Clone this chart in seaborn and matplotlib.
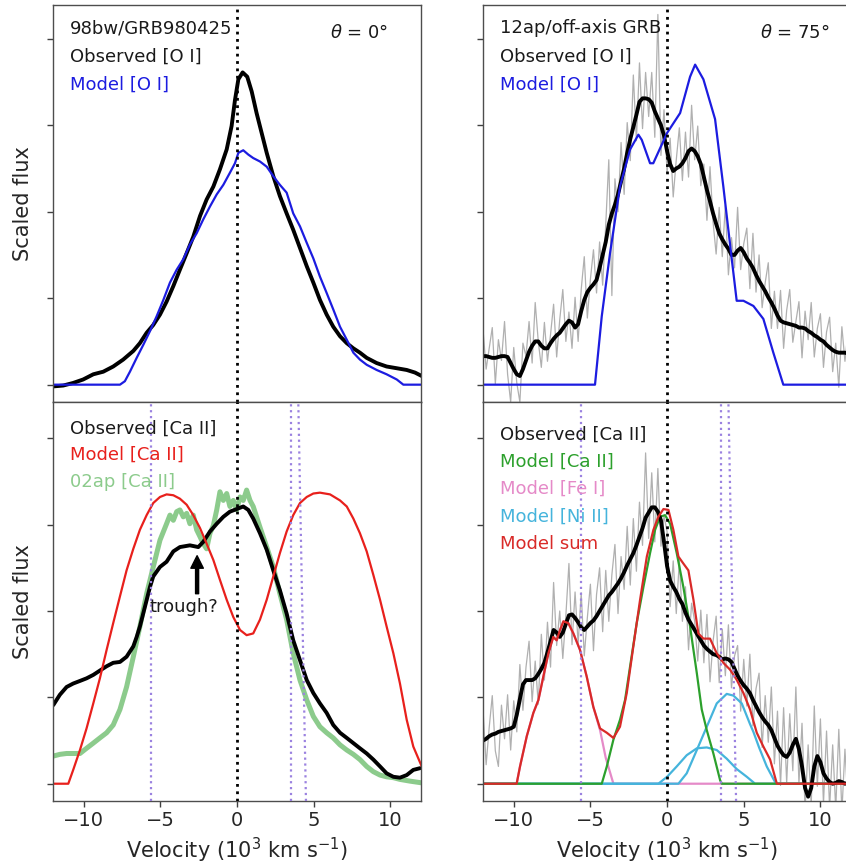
import numpy as np
import matplotlib
matplotlib.use("Agg")
import matplotlib.pyplot as plt
import seaborn as sns

# ------------------------------------------------------------------ data
# Top-left: SN 1998bw / GRB980425, [O I]
TL_OBS_V = [-11.98, -11.33, -10.68, -10.03, -9.37, -8.72, -8.07, -7.42, -6.76, -6.33, -5.89, -5.46,
            -5.02, -4.59, -4.15, -3.72, -3.28, -2.85, -2.41, -1.98, -1.54, -1.11, -0.67, -0.35,
            -0.13, 0.09, 0.37, 0.67, 0.96, 1.28, 1.61, 1.94, 2.37, 2.8, 3.24, 3.67, 4.11, 4.55,
            4.98, 5.41, 5.85, 6.28, 6.72, 7.16, 7.59, 8.02, 8.46, 9.11, 9.76, 10.42, 11.07, 11.61, 12.05]
TL_OBS_F = [-0.02, -0.01, 0.02, 0.06, 0.12, 0.15, 0.21, 0.29, 0.39, 0.48, 0.6, 0.69,
            0.81, 0.96, 1.14, 1.33, 1.52, 1.71, 1.95, 2.14, 2.29, 2.49, 2.72, 2.99,
            3.29, 3.53, 3.61, 3.56, 3.39, 3.14, 2.91, 2.68, 2.41, 2.18, 1.98, 1.79, 1.58, 1.37,
            1.18, 0.98, 0.81, 0.67, 0.56, 0.48, 0.42, 0.37, 0.31, 0.25, 0.21, 0.19, 0.17, 0.14, 0.1]
TL_MOD_V = [-12, -7.63, -7.31, -6.98, -6.54, -6.11, -5.67, -5.24, -4.8, -4.37, -3.93, -3.5, -3.07,
            -2.63, -2.2, -1.76, -1.32, -0.89, -0.46, -0.13, 0.09, 0.41, 0.74, 1.06, 1.5, 1.94,
            2.37, 2.8, 3.24, 3.67, 4.11, 4.55, 4.98, 5.41, 5.85, 6.28, 6.72, 7.16, 7.59, 8.02,
            8.46, 9.11, 9.76, 10.42, 10.85, 12]
TL_MOD_F = [0, 0, 0.04, 0.15, 0.31, 0.46, 0.62, 0.79, 0.98, 1.18, 1.33, 1.45, 1.62,
            1.75, 1.91, 2.06, 2.2, 2.31, 2.45, 2.56, 2.68, 2.71, 2.66, 2.62, 2.58, 2.52,
            2.41, 2.31, 2.22, 1.98, 1.83, 1.64, 1.46, 1.25, 1.06, 0.87, 0.67, 0.52, 0.37, 0.29,
            0.23, 0.17, 0.12, 0.06, 0, 0]

# Top-right: SN 2012ap, [O I]; observed spectrum sampled every 0.2 (10^3 km/s) from -12 to 12
TR_RAW_F = [0.63, 0.18, 0.42, 0.66, 0.01, 0.52, 0.28, 0.73, 0.12, -0.20,
            0.43, 0.02, -0.20, 0.48, 0.33, 0.73, 0.25, 0.95, 0.50, 0.20,
            0.72, 0.27, 0.58, 0.93, 0.32, 0.75, 1.10, 0.50, 0.84, 0.42,
            1.01, 0.50, 1.10, 1.48, 0.77, 1.22, 1.56, 1.06, 1.65, 1.15,
            1.85, 2.60, 1.03, 2.38, 2.00, 2.80, 2.20, 3.03, 2.59, 3.58,
            2.82, 3.72, 2.96, 3.61, 3.10, 3.61, 2.86, 4.28, 2.65, 3.18,
            2.45, 2.85, 2.17, 2.60, 2.97, 2.36, 2.92, 2.40, 3.23, 2.60,
            2.99, 2.30, 2.55, 1.90, 2.52, 1.88, 1.51, 2.05, 1.48, 2.07,
            1.27, 1.70, 1.35, 2.05, 1.33, 1.63, 1.81, 1.11, 1.75, 1.07,
            1.50, 0.89, 1.18, 1.41, 0.65, 1.08, 0.65, 1.09, 0.42, 0.86,
            1.10, 0.49, 0.73, 0.96, 0.31, 0.85, 0.52, 0.95, 0.32, 0.65,
            0.82, 0.20, 0.61, 0.78, 0.15, 0.48, -0.03, 0.67, 0.27, 0.61,
            0.16]
TR_SMOOTH_F = [0.33, 0.33, 0.32, 0.31, 0.31, 0.32, 0.33, 0.33, 0.32, 0.25,
               0.18, 0.12, 0.10, 0.18, 0.28, 0.38, 0.45, 0.50, 0.50, 0.45,
               0.42, 0.42, 0.48, 0.53, 0.57, 0.60, 0.65, 0.70, 0.74, 0.72,
               0.66, 0.70, 0.85, 0.98, 1.07, 1.12, 1.16, 1.21, 1.35, 1.50,
               1.65, 1.85, 1.98, 2.08, 2.20, 2.35, 2.50, 2.68, 2.84, 2.98,
               3.12, 3.27, 3.31, 3.31, 3.30, 3.26, 3.16, 3.08, 3.00, 2.88,
               2.70, 2.55, 2.47, 2.50, 2.52, 2.56, 2.62, 2.70, 2.73, 2.70,
               2.64, 2.55, 2.40, 2.25, 2.12, 1.98, 1.86, 1.75, 1.68, 1.62,
               1.57, 1.50, 1.50, 1.55, 1.58, 1.53, 1.46, 1.41, 1.35, 1.27,
               1.20, 1.14, 1.08, 1.01, 0.95, 0.88, 0.80, 0.74, 0.72, 0.71,
               0.70, 0.69, 0.68, 0.66, 0.66, 0.65, 0.62, 0.60, 0.57, 0.55,
               0.52, 0.50, 0.46, 0.43, 0.40, 0.38, 0.37, 0.37, 0.37, 0.36,
               0.36]
TR_MOD_V = [-12, -4.7, -4.26, -3.72, -3.07, -2.41, -1.87, -1.65, -1.11, -0.9, 0, 0.85, 1.5,
            1.83, 2.37, 3.13, 3.67, 4.22, 4.54, 4.98, 5.63, 6.28, 6.93, 7.58, 12]
TR_MOD_F = [0, 0, 0.79, 1.52, 2.29, 2.72, 2.89, 2.83, 2.56, 2.56, 2.91, 3.14, 3.56,
            3.7, 3.53, 3.07, 2.29, 1.45, 0.97, 0.97, 0.91, 0.76, 0.37, 0, 0]

# Bottom-left: SN 1998bw [Ca II]
BL_OBS_V = [-11.98, -11.55, -11.11, -10.68, -10.24, -9.81, -9.37, -8.94, -8.5, -8.07, -7.63, -7.2,
            -6.76, -6.54, -6.33, -6.0, -5.67, -5.46, -5.02, -4.59, -4.15, -3.72, -3.07, -2.52,
            -2.2, -1.76, -1.32, -0.89, -0.46, -0.02, 0.41, 0.74, 1.06, 1.5, 1.94, 2.37, 2.8,
            3.24, 3.67, 4.11, 4.55, 4.98, 5.41, 5.85, 6.28, 6.72, 7.16, 7.59, 8.02, 8.46, 8.89,
            9.33, 9.76, 10.2, 10.63, 11.07, 11.5, 11.94]
BL_OBS_F = [0.91, 1.03, 1.12, 1.16, 1.19, 1.22, 1.26, 1.31, 1.36, 1.4, 1.41, 1.47,
            1.59, 1.7, 1.82, 2.05, 2.28, 2.4, 2.51, 2.57, 2.69, 2.74, 2.76, 2.74,
            2.8, 2.92, 3.01, 3.09, 3.15, 3.18, 3.21, 3.17, 3.07, 2.9, 2.71, 2.47, 2.24,
            1.97, 1.66, 1.43, 1.2, 1.05, 0.93, 0.82, 0.68, 0.59, 0.53, 0.47, 0.41, 0.35, 0.28,
            0.2, 0.12, 0.08, 0.07, 0.1, 0.16, 0.18]
BL_MOD_V = [-12, -11.0, -10.68, -10.24, -9.81, -9.37, -8.94, -8.5, -8.07, -7.63, -7.2, -6.76,
            -6.33, -5.89, -5.46, -5.02, -4.59, -4.15, -3.72, -3.28, -2.85, -2.41, -1.98, -1.54,
            -1.11, -0.67, -0.24, 0.2, 0.63, 1.06, 1.5, 1.94, 2.37, 2.8, 3.24, 3.67, 4.11, 4.55,
            4.98, 5.41, 6.07, 6.72, 7.16, 7.59, 8.02, 8.46, 8.89, 9.33, 9.76, 10.2, 10.63,
            11.07, 11.5, 12.05]
BL_MOD_F = [0, 0, 0.16, 0.39, 0.64, 0.93, 1.22, 1.55, 1.86, 2.17, 2.47, 2.72,
            2.94, 3.11, 3.25, 3.32, 3.35, 3.34, 3.3, 3.23, 3.11, 2.96, 2.78, 2.59,
            2.36, 2.13, 1.93, 1.78, 1.72, 1.74, 1.9, 2.13, 2.4, 2.67, 2.92, 3.11, 3.25, 3.32,
            3.36, 3.37, 3.35, 3.28, 3.21, 3.07, 2.9, 2.69, 2.42, 2.13, 1.82, 1.51, 1.16,
            0.74, 0.43, 0.2]
BL_02AP_V = [-11.98, -11.55, -11.11, -10.68, -10.24, -9.81, -9.37, -8.94, -8.5, -8.07, -7.63,
             -7.2, -6.76, -6.33, -5.89, -5.46, -5.02, -4.59, -4.37, -4.15, -3.93, -3.72, -3.5,
             -3.28, -3.07, -2.85, -2.63, -2.41, -2.2, -1.98, -1.76, -1.54, -1.32, -1.11, -0.89,
             -0.67, -0.46, -0.24, -0.02, 0.2, 0.41, 0.63, 0.85, 1.06, 1.5, 1.94, 2.37, 2.8,
             3.24, 3.67, 4.11, 4.55, 4.98, 5.41, 5.85, 6.28, 6.72, 7.16, 7.59, 8.02, 8.46,
             8.89, 9.33, 9.76, 10.2, 10.63, 11.28, 12.05]
BL_02AP_F = [0.32, 0.34, 0.35, 0.35, 0.35, 0.41, 0.47, 0.53, 0.59, 0.68, 0.86,
             1.12, 1.47, 1.82, 2.2, 2.51, 2.82, 3.01, 3.11, 3.05, 3.15, 3.17, 3.09,
             3.13, 3.01, 3.11, 2.94, 2.86, 2.78, 2.72, 2.9, 2.99, 3.17, 3.38, 3.28,
             3.36, 3.21, 3.28, 3.17, 3.32, 3.28, 3.4, 3.28, 3.21, 2.97, 2.74, 2.51, 2.2,
             1.9, 1.51, 1.2, 0.97, 0.78, 0.66, 0.59, 0.53, 0.45, 0.39, 0.34, 0.28, 0.2,
             0.14, 0.1, 0.08, 0.07, 0.05, 0.03, 0.01]

# Bottom-right: SN 2012ap [Ca II] region; observed spectrum sampled every 0.2 from -12 to 12
BR_RAW_F = [0.85, 0.22, 0.65, 1.02, 0.38, 0.20, 0.91, 0.52, 1.03, 0.39,
            0.96, 0.60, 1.38, 0.85, 1.35, 1.65, 0.95, 1.42, 0.92, 1.73,
            1.20, 1.87, 1.35, 2.33, 1.60, 2.00, 1.45, 1.95, 2.55, 1.61,
            2.22, 1.62, 2.21, 1.48, 1.92, 2.31, 1.54, 2.19, 2.50, 1.76,
            2.47, 1.88, 2.42, 2.77, 1.97, 2.63, 2.25, 2.98, 2.30, 3.07,
            2.46, 3.26, 2.76, 3.83, 2.84, 3.60, 2.80, 3.65, 2.75, 3.10,
            2.92, 2.05, 2.58, 1.97, 2.59, 1.88, 2.28, 1.55, 2.09, 1.88,
            1.42, 2.01, 1.40, 1.96, 1.18, 1.65, 1.94, 1.17, 1.79, 1.25,
            1.84, 1.11, 1.48, 1.60, 0.84, 1.44, 0.90, 1.50, 0.67, 1.10,
            1.28, 0.42, 1.02, 0.48, 1.12, 0.23, 0.84, -0.02, 0.88, 0.01,
            0.81, 0.15, 1.12, 0.00, 0.70, -0.30, 0.45, -0.25, 0.90, -0.03,
            0.75, -0.23, 0.61, -0.28, 0.45, -0.29, 0.63, -0.33, 0.40, -0.24,
            0.32]
BR_SMOOTH_F = [0.50, 0.52, 0.55, 0.57, 0.58, 0.60, 0.61, 0.62, 0.63, 0.64,
               0.66, 0.80, 0.98, 1.15, 1.20, 1.20, 1.20, 1.22, 1.27, 1.33,
               1.40, 1.52, 1.65, 1.78, 1.75, 1.70, 1.75, 1.85, 1.95, 1.96,
               1.92, 1.87, 1.81, 1.78, 1.82, 1.86, 1.89, 1.94, 2.00, 2.06,
               2.12, 2.18, 2.22, 2.27, 2.32, 2.38, 2.45, 2.53, 2.60, 2.67,
               2.76, 2.86, 2.96, 3.08, 3.14, 3.20, 3.20, 3.15, 3.05, 2.80,
               2.52, 2.35, 2.28, 2.22, 2.14, 2.08, 1.98, 1.90, 1.84, 1.78,
               1.72, 1.66, 1.60, 1.56, 1.53, 1.50, 1.49, 1.47, 1.44, 1.45,
               1.44, 1.41, 1.33, 1.25, 1.19, 1.14, 1.10, 1.05, 0.97, 0.90,
               0.83, 0.77, 0.72, 0.68, 0.62, 0.53, 0.44, 0.38, 0.33, 0.31,
               0.36, 0.45, 0.52, 0.40, 0.20, -0.05, -0.15, -0.05, 0.20, 0.32,
               0.25, 0.12, 0.06, 0.02, 0.00, 0.01, 0.03, 0.02, 0.00, 0.01,
               0.02]
BR_CA_V = [-12, -4.26, -3.93, -3.5, -3.07, -2.74, -2.41, -1.98, -1.54, -1.11, -0.78, -0.46,
           -0.13, 0.2, 0.63, 1.06, 1.5, 1.94, 2.26, 2.59, 3.02, 3.46, 3.57, 12]
BR_CA_F = [0, 0, 0.2, 0.51, 0.74, 0.97, 1.36, 1.86, 2.28, 2.67, 2.94, 3.09,
           3.11, 3.01, 2.67, 2.28, 1.82, 1.28, 0.86, 0.62, 0.35, 0.04, 0, 0]
BR_FE_V = [-12, -9.81, -9.59, -9.15, -8.72, -8.39, -8.07, -7.74, -7.42, -7.2, -6.98, -6.76,
           -6.44, -6.11, -5.68, -5.24, -4.81, -4.37, -4.0, -3.5, 12]
BR_FE_F = [0, 0, 0.2, 0.55, 0.82, 0.97, 1.24, 1.51, 1.7, 1.66, 1.78, 1.88,
           1.86, 1.74, 1.55, 1.24, 0.89, 0.62, 0.3, 0, 0]
BR_NI1_V = [-12, -0.57, 0, 0.63, 1.28, 1.94, 2.59, 3.24, 3.89, 4.54, 5.2, 5.74, 12]
BR_NI1_F = [0, 0, 0.08, 0.2, 0.33, 0.41, 0.42, 0.39, 0.29, 0.17, 0.08, 0, 0]
BR_NI2_V = [-12, 0.74, 1.28, 1.94, 2.59, 3.24, 3.89, 4.33, 4.87, 5.41, 5.63, 6.0, 6.5, 7.1, 12]
BR_NI2_F = [0, 0, 0.12, 0.39, 0.66, 0.93, 1.04, 1.02, 0.93, 0.69, 0.6, 0.42, 0.2, 0, 0]
BR_SUM_V = [-12, -9.81, -9.59, -9.15, -8.72, -8.39, -8.07, -7.74, -7.42, -7.2, -6.98, -6.76,
            -6.44, -6.11, -5.68, -5.24, -4.81, -4.37, -3.93, -3.5, -3.07, -2.63, -2.2, -1.76,
            -1.32, -0.89, -0.57, -0.24, 0.09, 0.41, 0.74, 1.06, 1.39, 1.72, 2.04, 2.37, 2.8,
            3.24, 3.67, 4.11, 4.55, 4.98, 5.41, 5.85, 6.28, 6.72, 7.16, 12]
BR_SUM_F = [0, 0, 0.2, 0.55, 0.82, 0.97, 1.24, 1.51, 1.7, 1.66, 1.78, 1.88,
            1.86, 1.74, 1.55, 1.24, 0.89, 0.64, 0.59, 0.53, 0.66, 1.05, 1.59, 2.13,
            2.63, 2.94, 3.09, 3.18, 3.17, 2.94, 2.63, 2.55, 2.47, 2.13, 1.74, 1.68, 1.68,
            1.51, 1.4, 1.32, 1.2, 1.05, 0.86, 0.59, 0.43, 0.28, 0, 0]

# reference velocities (purple dotted markers)
MARK_V = [-5.6, 3.5]
MARK_SLANT_V = [4.5, 4.0]   # bottom -> top

X_TICKS = [-10, -5, 0, 5, 10]
Y_TICKS = [0, 1, 2, 3, 4]

# ------------------------------------------------------------------ style
sns.set_style("ticks")
plt.rcParams["font.family"] = ["DejaVu Sans"]
plt.rcParams["mathtext.fontset"] = "dejavusans"

C_BLACK = "black"
C_BLUE = "#1c1ce0"
C_RED_L = "#e8201c"
C_GREEN_L = "#8ccb8c"
C_GRAY = "#b0b0b0"
C_GREEN = "#2ca02c"
C_PINK = "#e58ac8"
C_CYAN = "#45b4dc"
C_RED = "#d92a28"
C_PURPLE = "#9b82e0"

fig = plt.figure(figsize=(8.46, 8.68), dpi=100)
L, R, W = 0.0626, 0.571, 0.435
TOP_Y, TOP_H = 0.5369, 0.4574
BOT_Y, BOT_H = 0.0772, 0.4597
ax_tl = fig.add_axes([L, TOP_Y, W, TOP_H])
ax_bl = fig.add_axes([L, BOT_Y, W, BOT_H], sharex=ax_tl)
ax_tr = fig.add_axes([R, TOP_Y, W, TOP_H])
ax_br = fig.add_axes([R, BOT_Y, W, BOT_H], sharex=ax_tr)


def draw(ax, v, f, color, lw, alpha=1.0):
    sns.lineplot(x=np.asarray(v, float), y=np.asarray(f, float), ax=ax, color=color,
                 lw=lw, alpha=alpha, estimator=None, sort=False, legend=False)


grid_tr = np.linspace(-12, 12, len(TR_RAW_F))
grid_trs = np.linspace(-12, 12, len(TR_SMOOTH_F))
grid_br = np.linspace(-12, 12, len(BR_RAW_F))
grid_brs = np.linspace(-12, 12, len(BR_SMOOTH_F))

# top-left
draw(ax_tl, TL_OBS_V, TL_OBS_F, C_BLACK, 2.8)
draw(ax_tl, TL_MOD_V, TL_MOD_F, C_BLUE, 1.6)
# top-right
draw(ax_tr, grid_tr, TR_RAW_F, C_GRAY, 0.9)
draw(ax_tr, grid_trs, TR_SMOOTH_F, C_BLACK, 2.8)
draw(ax_tr, TR_MOD_V, TR_MOD_F, C_BLUE, 1.6)
# bottom-left
draw(ax_bl, BL_02AP_V, BL_02AP_F, C_GREEN_L, 3.6)
draw(ax_bl, BL_OBS_V, BL_OBS_F, C_BLACK, 2.8)
draw(ax_bl, BL_MOD_V, BL_MOD_F, C_RED_L, 1.6)
# bottom-right
draw(ax_br, grid_br, BR_RAW_F, C_GRAY, 0.9)
draw(ax_br, BR_FE_V, BR_FE_F, C_PINK, 1.6)
draw(ax_br, BR_NI1_V, BR_NI1_F, C_CYAN, 1.6)
draw(ax_br, BR_NI2_V, BR_NI2_F, C_CYAN, 1.6)
draw(ax_br, BR_CA_V, BR_CA_F, C_GREEN, 1.6)
draw(ax_br, grid_brs, BR_SMOOTH_F, C_BLACK, 2.8)
draw(ax_br, BR_SUM_V, BR_SUM_F, C_RED, 1.6)

for ax in (ax_bl, ax_br):
    for v in MARK_V:
        ax.axvline(v, color=C_PURPLE, ls=":", lw=1.6, zorder=3)
    ax.plot(MARK_SLANT_V, [0, 1], transform=ax.get_xaxis_transform(),
            color=C_PURPLE, ls=":", lw=1.6, zorder=3)

for ax in (ax_tl, ax_tr, ax_bl, ax_br):
    ax.axvline(0, color="black", ls=":", lw=2.0, zorder=4)
    ax.set_xlim(-12, 12)
    ax.set_xticks(X_TICKS)
    ax.set_yticks(Y_TICKS)
    ax.set_yticklabels([])
    ax.tick_params(direction="out", length=4, width=1, labelsize=14, colors=".25")
    ax.tick_params(labelcolor=".15")
    for s in ax.spines.values():
        s.set_color(".3")
        s.set_linewidth(1.0)
    ax.set_xlabel("")
    ax.set_ylabel("")

for ax in (ax_tl, ax_tr):
    ax.set_ylim(-0.2, 4.39)
    ax.tick_params(axis="x", length=0, labelbottom=False)
for ax in (ax_bl, ax_br):
    ax.set_ylim(-0.2, 4.42)
    ax.set_xlabel("Velocity (10$^3$ km s$^{-1}$)", fontsize=15, color=".15")

for ax in (ax_tl, ax_bl):
    ax.set_ylabel("Scaled flux", fontsize=15, color=".15")
    ax.yaxis.set_label_coords(-0.055, 0.5)

FS = 13
tx = 0.045
# top-left texts
ax_tl.text(tx, 0.929, "98bw/GRB980425", transform=ax_tl.transAxes, fontsize=FS, color=".1")
ax_tl.text(tx, 0.858, "Observed [O I]", transform=ax_tl.transAxes, fontsize=FS, color=".1")
ax_tl.text(tx, 0.786, "Model [O I]", transform=ax_tl.transAxes, fontsize=FS, color=C_BLUE)
ax_tl.text(0.753, 0.917, r"$\theta$ = 0°", transform=ax_tl.transAxes, fontsize=FS, color=".1")
# top-right texts
ax_tr.text(tx, 0.929, "12ap/off-axis GRB", transform=ax_tr.transAxes, fontsize=FS, color=".1")
ax_tr.text(tx, 0.858, "Observed [O I]", transform=ax_tr.transAxes, fontsize=FS, color=".1")
ax_tr.text(tx, 0.786, "Model [O I]", transform=ax_tr.transAxes, fontsize=FS, color=C_BLUE)
ax_tr.text(0.753, 0.917, r"$\theta$ = 75°", transform=ax_tr.transAxes, fontsize=FS, color=".1")
# bottom-left texts
ax_bl.text(tx, 0.9216, "Observed [Ca II]", transform=ax_bl.transAxes, fontsize=FS, color=".1")
ax_bl.text(tx, 0.8546, "Model [Ca II]", transform=ax_bl.transAxes, fontsize=FS, color=C_RED_L)
ax_bl.text(tx, 0.786, "02ap [Ca II]", transform=ax_bl.transAxes, fontsize=FS, color=C_GREEN_L)
# bottom-right texts
br_labels = [("Observed [Ca II]", ".1"), ("Model [Ca II]", C_GREEN), ("Model [Fe I]", C_PINK),
             ("Model [Ni II]", C_CYAN), ("Model sum", C_RED)]
for i, (t, c) in enumerate(br_labels):
    ax_br.text(tx, 0.9065 - 0.0687 * i, t, transform=ax_br.transAxes, fontsize=FS, color=c)

# trough annotation
ax_bl.annotate("", xy=(-2.6, 2.64), xytext=(-2.6, 2.2),
               arrowprops=dict(facecolor="black", edgecolor="black", width=2.2,
                               headwidth=9, headlength=9, shrink=0.0))
ax_bl.text(-3.46, 2.05, "trough?", fontsize=FS, ha="center", va="center", color=".1")

fig.savefig("out.png", dpi=100)
